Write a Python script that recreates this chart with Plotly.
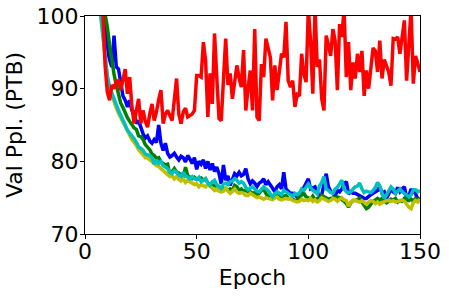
import plotly.graph_objects as go

epochs = list(range(1, 151))

red = [140,125,115,108,104,102,101,100.5,
       93.2,89.5,88.4,90.5,90.0,91.0,91.1,89.8,91.5,92.7,89.3,91.6,
       87.5,85.2,87.0,88.6,85.2,87.0,85.5,84.7,86.5,87.9,
       85.6,86.8,88.5,89.8,85.2,86.5,87.0,86.3,85.6,88.5,
       91.4,86.5,85.2,86.8,87.3,86.1,86.3,86.5,87.0,91.8,
       91.8,91.6,96.4,93.9,86.1,92.1,87.9,97.6,91.6,85.9,
       85.6,91.0,96.9,90.5,92.1,88.6,91.0,93.2,91.5,90.2,
       95.3,87.0,90.0,92.5,87.0,98.2,86.1,85.6,93.4,91.6,
       96.9,95.5,94.3,88.4,93.2,89.8,92.0,94.8,94.3,99.2,
       91.1,90.2,91.1,87.5,89.2,89.0,94.8,92.0,90.9,101.0,
       96.6,89.3,101.0,93.0,94.0,88.6,87.0,97.3,96.0,94.5,
       98.2,96.6,89.8,98.9,97.1,101.0,91.6,96.4,89.8,93.6,
       91.4,94.8,92.3,95.2,89.0,92.5,90.0,93.0,95.6,95.2,
       92.3,96.6,91.4,94.0,93.0,92.3,90.4,96.9,96.8,97.1,
       94.8,97.3,99.4,91.1,96.6,101.0,90.7,94.5,93.5,92.3]

blue = [150,130,118,110,105,102,100.8,100.2,
        99.0,95.5,94.0,93.0,97.3,93.0,92.7,91.1,89.0,88.4,87.5,88.4,
        87.0,86.8,85.2,85.6,84.5,83.8,83.2,83.5,82.8,82.5,
        83.0,82.6,85.0,82.5,81.5,82.5,81.1,80.6,80.8,81.1,
        80.6,80.2,80.7,80.5,79.9,80.8,80.3,79.7,80.5,78.9,
        80.0,79.6,80.2,79.0,80.0,78.8,79.7,78.6,79.2,78.3,
        76.9,79.5,77.4,78.0,76.7,77.6,78.3,78.0,78.5,78.0,
        78.2,79.0,77.6,76.9,77.3,77.0,76.5,77.0,77.2,77.6,
        76.8,77.2,76.8,76.3,75.8,76.5,76.8,76.2,78.5,76.2,
        75.9,75.6,75.6,75.4,75.1,75.6,75.8,76.4,77.0,77.6,
        76.2,76.4,76.5,75.8,75.1,75.4,76.8,78.3,76.5,75.9,
        75.6,75.2,76.0,75.8,76.2,76.9,77.2,75.5,75.8,75.6,
        75.6,75.4,75.3,75.1,74.9,74.9,75.2,75.4,75.6,75.8,
        76.0,76.5,75.6,75.8,74.9,75.5,76.2,75.8,75.6,76.4,
        75.8,76.2,76.5,75.0,75.2,76.2,75.8,75.6,74.7,75.0]

green = [160,140,125,115,108,104,102,100.8,100.2,
         98.5,96.0,93.8,92.0,90.5,89.0,88.0,87.4,86.6,86.0,85.5,
         85.0,84.6,84.4,83.5,83.4,83.0,82.3,82.0,81.6,81.0,
         80.8,80.4,80.5,79.9,79.7,79.5,79.6,78.2,78.6,79.0,
         78.5,78.4,78.1,77.8,79.2,78.0,77.8,77.6,77.8,77.5,
         77.6,77.7,77.4,77.6,77.0,76.9,76.8,76.6,76.5,76.5,
         76.3,76.2,76.3,76.0,76.2,76.0,76.7,76.5,76.0,76.2,
         75.9,76.0,75.8,75.8,75.6,75.7,75.4,75.6,76.0,76.1,
         75.6,75.1,75.3,75.3,75.0,75.3,75.2,75.1,75.2,75.3,
         74.9,74.9,74.8,74.6,74.7,75.1,75.3,75.6,75.1,75.0,
         74.8,75.2,74.7,74.9,74.9,75.3,75.1,75.0,74.8,74.9,
         75.0,75.1,75.1,75.0,74.8,74.5,74.2,73.7,74.3,74.6,
         74.6,74.8,74.9,74.4,73.9,73.5,73.7,74.2,74.5,74.7,
         74.9,74.7,74.9,74.6,74.3,74.5,74.8,74.7,74.9,74.4,
         74.6,74.5,74.9,74.7,74.6,74.8,74.5,74.9,74.8,74.6]

cyan = [150,130,117,108,103,101,100.3,
        97.5,94.5,91.8,90.2,89.3,88.6,87.8,87.0,86.4,85.8,85.0,84.3,83.9,
        83.6,83.1,82.6,82.0,81.8,81.5,81.0,80.9,80.8,80.5,
        79.6,80.2,79.7,80.0,79.4,79.2,79.0,78.5,78.3,78.7,
        78.5,78.1,77.9,78.5,78.0,77.8,77.6,77.9,77.6,77.5,
        77.8,77.2,77.4,77.6,77.0,76.7,77.2,77.4,76.8,76.5,
        76.3,76.9,77.0,76.8,77.2,77.3,77.6,77.4,77.0,77.2,
        77.0,76.4,76.1,76.3,76.5,76.2,75.9,75.8,76.2,76.5,
        76.2,76.0,75.5,75.1,75.5,75.8,75.6,75.4,76.0,75.8,
        75.6,75.4,75.2,75.6,75.4,75.6,76.2,76.0,76.4,76.9,
        76.4,76.0,75.8,75.5,76.6,77.1,77.9,76.2,76.0,75.7,
        75.6,76.2,76.4,76.9,77.4,76.2,75.8,75.7,75.8,76.2,
        76.5,76.6,77.0,76.2,75.7,75.9,75.8,75.7,76.0,76.4,
        77.1,76.6,75.6,74.9,75.4,76.0,76.5,76.2,75.6,75.9,
        76.2,75.8,75.6,75.3,75.1,75.4,76.1,76.1,75.8,76.0]

yellow = [150,130,116,107,103,100.8,100.2,
          97.0,94.0,91.5,90.0,89.0,88.2,87.4,86.6,86.0,85.3,84.6,84.0,83.5,
          83.0,82.6,82.2,81.6,81.3,80.9,80.5,80.5,80.2,80.0,
          79.7,79.4,79.3,79.0,78.7,78.5,78.2,77.9,78.0,77.6,
          77.9,77.5,77.3,77.6,77.1,77.4,77.2,77.0,76.8,76.9,
          76.5,76.8,76.6,76.5,76.8,76.6,76.3,76.0,76.2,75.9,
          75.8,75.9,76.3,75.9,75.6,75.9,76.2,75.8,75.6,75.7,
          75.6,75.3,75.3,75.6,75.4,75.2,75.0,75.1,74.9,74.8,
          75.0,74.9,74.7,74.7,75.0,75.1,74.8,74.7,74.8,74.9,
          74.8,74.9,74.6,74.5,74.4,74.5,74.8,74.6,74.7,74.6,
          74.9,74.5,74.7,74.4,74.6,75.0,74.8,74.7,74.5,74.6,
          74.9,74.8,74.5,74.8,75.0,74.7,74.6,73.8,74.4,74.6,
          74.7,74.5,74.4,74.6,74.3,74.1,74.4,74.6,74.5,74.2,
          74.4,74.1,74.3,74.5,74.6,74.6,74.5,74.6,74.4,74.5,
          74.6,74.7,74.5,74.0,73.7,73.5,74.3,74.6,74.4,74.8]

x_ticks = [0, 50, 100, 150]
y_ticks = [70, 80, 90, 100]

series = [("blue", blue, "#0000ff"),
          ("green", green, "#008000"),
          ("yellow", yellow, "#bfbf00"),
          ("cyan", cyan, "#00bfbf"),
          ("red", red, "#ff0000")]

fig = go.Figure()
for name, vals, col in series:
    fig.add_trace(go.Scatter(x=epochs, y=vals, mode="lines", name=name,
                             line=dict(color=col, width=3.5), showlegend=False))

FONT = dict(family="DejaVu Sans", size=22, color="black")
axis_common = dict(showline=True, linecolor="black", linewidth=1, mirror=True,
                   ticks="outside", ticklen=4, tickwidth=1, tickcolor="black",
                   showgrid=False, zeroline=False, automargin=False,
                   tickfont=FONT)

fig.update_xaxes(range=[0, 150], tickvals=x_ticks, ticklabelstandoff=-6,
                 title=dict(text="Epoch", font=FONT, standoff=6),
                 **axis_common)
fig.update_yaxes(range=[70, 100], tickvals=y_ticks, ticklabelstandoff=-3,
                 title=dict(text="Val Ppl. (PTB)", font=FONT, standoff=7),
                 **axis_common)

fig.update_layout(width=449, height=297, margin=dict(l=85, r=29, t=16, b=63),
                  paper_bgcolor="white", plot_bgcolor="white")

# remove the default page margin so the figure fills the window exactly
fig.write_html("out.html", config={"displayModeBar": False},
               post_script="document.body.style.margin='0';")
